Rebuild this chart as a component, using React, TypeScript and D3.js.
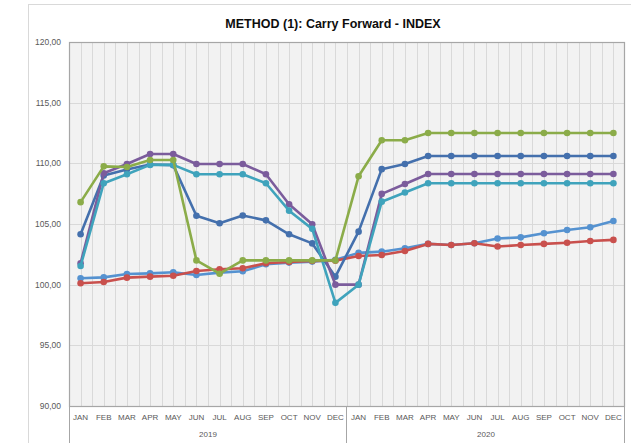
// ─ Imports ──────────────────────────────────────────────────────────────────────────────────────
import * as d3 from 'd3';
import { ReactElement, useEffect, useRef } from 'react';

// ─ Data ─────────────────────────────────────────────────────────────────────────────────────────
const months = ['JAN', 'FEB', 'MAR', 'APR', 'MAY', 'JUN', 'JUL', 'AUG', 'SEP', 'OCT', 'NOV', 'DEC'];
const years = ['2019', '2020'];
const yTicks = [90, 95, 100, 105, 110, 115, 120];

const lightBlueValues = [100.53, 100.6, 100.88, 100.93, 101.02, 100.8, 100.99, 101.1, 101.68, 101.82, 101.9, 102.05,
  102.62, 102.72, 103.0, 103.36, 103.27, 103.41, 103.8, 103.9, 104.24, 104.5, 104.73, 105.25];
const redValues = [100.12, 100.22, 100.58, 100.66, 100.74, 101.13, 101.27, 101.35, 101.76, 101.87, 101.96, 101.98,
  102.36, 102.45, 102.78, 103.36, 103.27, 103.41, 103.14, 103.27, 103.36, 103.46, 103.6, 103.69];
const darkBlueValues = [104.15, 109.0, 109.5, 109.9, 109.85, 105.68, 105.06, 105.7, 105.3, 104.15, 103.4, 100.66,
  104.37, 109.52, 109.95, 110.6, 110.6, 110.6, 110.6, 110.6, 110.6, 110.6, 110.6, 110.6];
const purpleValues = [101.76, 109.18, 109.95, 110.77, 110.77, 109.95, 109.95, 109.95, 109.1, 106.63, 104.98, 100.0,
  100.0, 107.48, 108.3, 109.12, 109.12, 109.12, 109.12, 109.12, 109.12, 109.12, 109.12, 109.12];
const aquaValues = [101.54, 108.36, 109.1, 109.87, 109.87, 109.1, 109.1, 109.1, 108.36, 106.1, 104.6, 98.5,
  100.0, 106.84, 107.6, 108.36, 108.36, 108.36, 108.36, 108.36, 108.36, 108.36, 108.36, 108.36];
const greenValues = [106.8, 109.75, 109.7, 110.28, 110.28, 102.0, 100.9, 102.0, 102.0, 102.0, 102.0, 102.0,
  108.93, 111.9, 111.9, 112.5, 112.5, 112.5, 112.5, 112.5, 112.5, 112.5, 112.5, 112.5];

const series = [
  { name: 'lightBlue', values: lightBlueValues, color: '#5592D0' },
  { name: 'red', values: redValues, color: '#C9504D' },
  { name: 'darkBlue', values: darkBlueValues, color: '#4470AD' },
  { name: 'purple', values: purpleValues, color: '#7B5C9C' },
  { name: 'aqua', values: aquaValues, color: '#3FA3BC' },
  { name: 'green', values: greenValues, color: '#8BAC49' }
];

const FONT = '"Liberation Sans", Arial, sans-serif';

const App = (): ReactElement => {
  const svgRef = useRef<SVGSVGElement>(null);

  useEffect(() => {
    if (!svgRef.current) { return; }
    const svg = d3.select(svgRef.current);
    svg.selectAll('*').remove();

    const width = 631;
    const height = 443;
    const plot = { left: 69, right: 625, top: 42, bottom: 406 };

    const keys = years.flatMap(y => months.map(m => `${y}-${m}`));

    const x = d3.scaleBand().domain(keys).range([plot.left, plot.right]).padding(0);
    const y = d3.scaleLinear().domain([90, 120]).range([plot.bottom, plot.top]);
    const cx = (i: number) => (x(keys[i]) || 0) + x.bandwidth() / 2;

    // Chart area background + border
    svg.append('rect')
      .attr('x', 28.5).attr('y', 4.5)
      .attr('width', width).attr('height', height)
      .attr('fill', '#fff').attr('stroke', '#d9d9d9');

    // Title
    svg.append('text')
      .attr('x', 333).attr('y', 28)
      .attr('text-anchor', 'middle')
      .style('font-family', FONT).style('font-size', '12.5px').style('font-weight', 'bold')
      .style('fill', '#0d0d0d')
      .text('METHOD (1): Carry Forward - INDEX');

    // Plot background
    svg.append('rect')
      .attr('x', plot.left).attr('y', plot.top)
      .attr('width', plot.right - plot.left).attr('height', plot.bottom - plot.top)
      .attr('fill', '#f2f2f2');

    // Vertical grid lines (category edges and centers)
    const vLines: number[] = [];
    keys.forEach((k, i) => {
      vLines.push(x(k) || 0);
      vLines.push(cx(i));
    });
    svg.append('g').selectAll('line')
      .data(vLines.filter(v => v > plot.left))
      .enter().append('line')
      .attr('x1', d => Math.round(d) + 0.5).attr('x2', d => Math.round(d) + 0.5)
      .attr('y1', plot.top).attr('y2', plot.bottom)
      .attr('stroke', '#d9d9d9').attr('stroke-width', 1);

    // Horizontal grid lines
    svg.append('g').selectAll('line')
      .data(yTicks.slice(1, -1))
      .enter().append('line')
      .attr('x1', plot.left).attr('x2', plot.right)
      .attr('y1', d => Math.round(y(d)) + 0.5).attr('y2', d => Math.round(y(d)) + 0.5)
      .attr('stroke', '#d9d9d9').attr('stroke-width', 1);

    // Plot border
    svg.append('rect')
      .attr('x', plot.left + 0.5).attr('y', plot.top + 0.5)
      .attr('width', plot.right - plot.left - 1).attr('height', plot.bottom - plot.top)
      .attr('fill', 'none').attr('stroke', '#a6a6a6').attr('stroke-width', 1.2);

    // Y axis labels
    svg.append('g').selectAll('text')
      .data(yTicks)
      .enter().append('text')
      .attr('x', 61).attr('y', d => y(d) + 3)
      .attr('text-anchor', 'end')
      .style('font-family', FONT).style('font-size', '8.5px').style('fill', '#595959')
      .text(d => d3.format('.2f')(d).replace('.', ','));

    // X axis: months
    svg.append('g').selectAll('text')
      .data(keys)
      .enter().append('text')
      .attr('x', (d, i) => cx(i)).attr('y', 420)
      .attr('text-anchor', 'middle')
      .style('font-family', FONT).style('font-size', '8px').style('fill', '#595959')
      .text(d => d.split('-')[1]);

    // X axis: years and separators
    years.forEach((yr, yi) => {
      const first = x(`${yr}-JAN`) || 0;
      const last = (x(`${yr}-DEC`) || 0) + x.bandwidth();
      svg.append('text')
        .attr('x', (first + last) / 2).attr('y', 437)
        .attr('text-anchor', 'middle')
        .style('font-family', FONT).style('font-size', '8px').style('fill', '#595959')
        .text(yr);
      if (yi === 0) {
        svg.append('line')
          .attr('x1', Math.round(first) + 0.5).attr('x2', Math.round(first) + 0.5)
          .attr('y1', plot.bottom).attr('y2', height)
          .attr('stroke', '#a6a6a6');
      }
      svg.append('line')
        .attr('x1', Math.round(last) - 0.5).attr('x2', Math.round(last) - 0.5)
        .attr('y1', plot.bottom).attr('y2', height)
        .attr('stroke', '#a6a6a6');
    });

    // Series lines
    const line = d3.line<number>()
      .x((d, i) => cx(i))
      .y(d => y(d));

    series.forEach(s => {
      const g = svg.append('g');
      g.append('path')
        .datum(s.values)
        .attr('d', line)
        .attr('fill', 'none')
        .attr('stroke', s.color)
        .attr('stroke-width', 2.6)
        .attr('stroke-linejoin', 'round');
      g.selectAll('circle')
        .data(s.values)
        .enter().append('circle')
        .attr('cx', (d, i) => cx(i))
        .attr('cy', d => y(d))
        .attr('r', 3.3)
        .attr('fill', s.color);
    });
  }, []);

  return (
    <div style={{ position: 'absolute', left: 0, top: 0 }}>
      <svg ref={svgRef} width={631} height={443} style={{ display: 'block' }} />
    </div>
  );
};

// ─ Exports ──────────────────────────────────────────────────────────────────────────────────────
export default App;
